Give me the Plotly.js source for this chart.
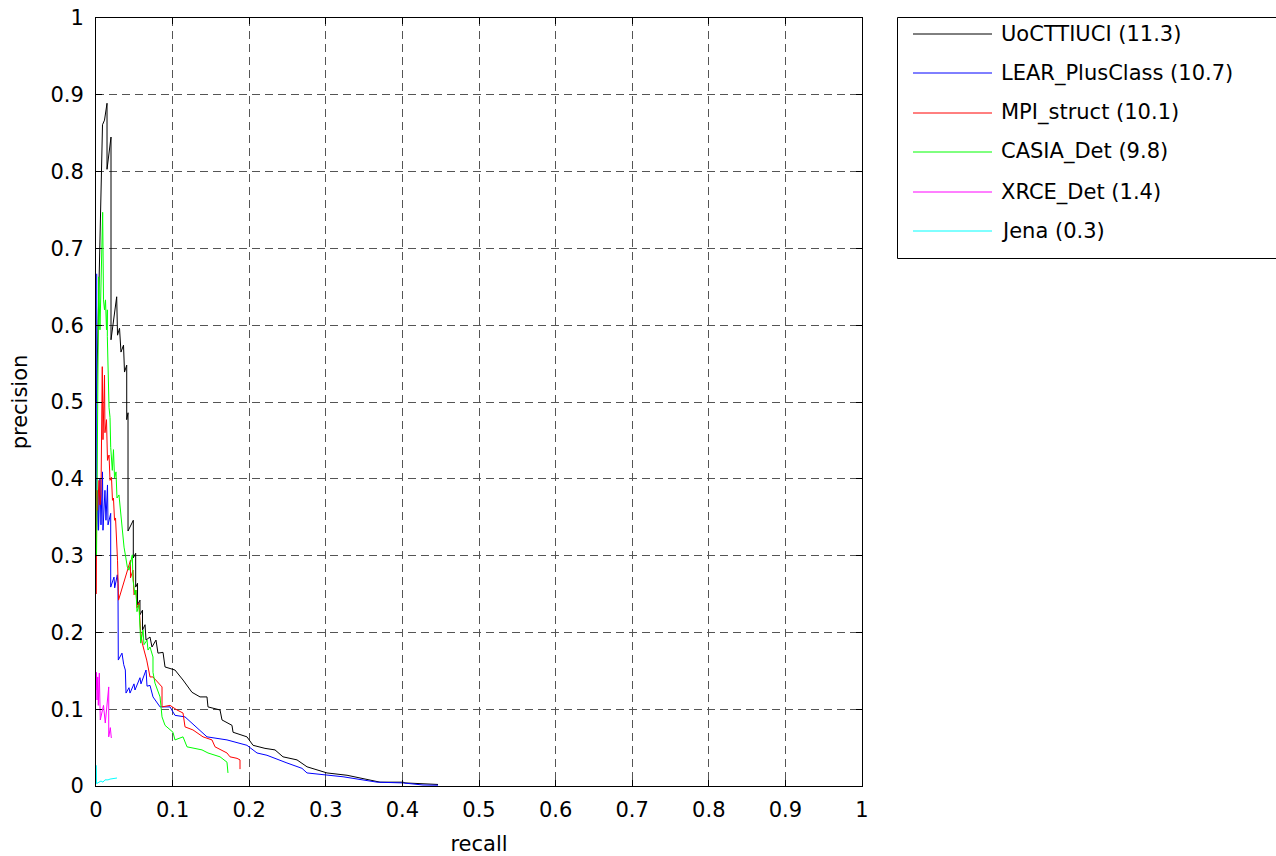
<!DOCTYPE html>
<html>
<head>
<meta charset="utf-8">
<script src="https://cdn.plot.ly/plotly-3.0.1.min.js"></script>
<style>
html,body{margin:0;padding:0;background:#fff;}
#chart{width:1276px;height:856px;}
</style>
</head>
<body>
<div id="chart"></div>
<script>
// ---------- data ----------
const seriesNames = ["UoCTTIUCI (11.3)", "LEAR_PlusClass (10.7)", "MPI_struct (10.1)", "CASIA_Det (9.8)", "XRCE_Det (1.4)", "Jena (0.3)"];
const seriesColors = ["#000000", "#0000ff", "#ff0000", "#00ff00", "#ff00ff", "#00ffff"];

const recallUoC = [0.0005,0.0039,0.0085,0.0111,0.0144,0.0144,0.0196,0.0196,0.027,0.0281,0.0307,0.0326,0.0359,0.0372,0.0401,0.0401,0.0418,0.0418,0.0487,0.0487,0.0518,0.0518,0.0542,0.0542,0.0574,0.0574,0.0607,0.0607,0.064,0.0653,0.0705,0.0731,0.0783,0.0809,0.0875,0.0901,0.1031,0.1136,0.1253,0.1358,0.1449,0.1462,0.1619,0.1645,0.1775,0.1789,0.1971,0.205,0.2206,0.2337,0.2441,0.2624,0.2755,0.3016,0.3277,0.3708,0.4008,0.4034,0.4465];
const precUoC   = [0.5,0.659,0.861,0.867,0.889,0.803,0.845,0.581,0.637,0.587,0.596,0.565,0.574,0.539,0.548,0.477,0.486,0.332,0.346,0.297,0.303,0.259,0.264,0.236,0.242,0.223,0.229,0.203,0.21,0.19,0.194,0.181,0.19,0.173,0.174,0.155,0.151,0.138,0.122,0.116,0.116,0.103,0.099,0.086,0.079,0.07,0.064,0.053,0.049,0.047,0.038,0.034,0.025,0.017,0.014,0.005,0.005,0.004,0.002];

const recallLEAR = [0.0009,0.0009,0.0026,0.0033,0.0052,0.0065,0.0085,0.0091,0.0117,0.013,0.015,0.0157,0.0192,0.0192,0.0235,0.0244,0.0278,0.0287,0.0291,0.0339,0.0362,0.0383,0.0392,0.0431,0.0444,0.0496,0.0509,0.0574,0.0587,0.0653,0.0666,0.0705,0.0744,0.0836,0.0966,0.1031,0.1162,0.1332,0.1449,0.171,0.1971,0.2102,0.2232,0.2493,0.2689,0.2755,0.3225,0.3668,0.4008,0.4269,0.4465];
const precLEAR   = [0.667,0.333,0.385,0.333,0.401,0.34,0.409,0.333,0.385,0.346,0.392,0.34,0.355,0.259,0.272,0.258,0.275,0.264,0.164,0.173,0.158,0.151,0.121,0.128,0.121,0.133,0.125,0.141,0.133,0.151,0.13,0.131,0.116,0.103,0.103,0.092,0.09,0.075,0.064,0.06,0.053,0.043,0.04,0.03,0.023,0.017,0.012,0.005,0.004,0.0013,0.001];

const recallMPI = [0.0004,0.0009,0.002,0.0039,0.0052,0.0065,0.0082,0.0091,0.0111,0.0117,0.0137,0.015,0.017,0.0183,0.0202,0.0215,0.0228,0.0242,0.0255,0.0268,0.0281,0.0294,0.045,0.045,0.0483,0.0496,0.0522,0.0535,0.0561,0.0581,0.0604,0.0627,0.0662,0.0705,0.0744,0.0862,0.0862,0.0966,0.1057,0.1136,0.1162,0.1266,0.1397,0.1514,0.1554,0.171,0.1749,0.1841,0.188,0.188];
const precMPI   = [0.25,0.385,0.359,0.398,0.366,0.379,0.546,0.451,0.535,0.46,0.477,0.424,0.431,0.398,0.402,0.372,0.375,0.346,0.349,0.32,0.294,0.242,0.294,0.271,0.281,0.249,0.255,0.232,0.238,0.203,0.186,0.177,0.164,0.142,0.142,0.129,0.103,0.105,0.099,0.095,0.077,0.073,0.064,0.06,0.051,0.043,0.038,0.036,0.034,0.022];

const recallCASIA = [0.0007,0.002,0.0035,0.0052,0.0087,0.0098,0.0111,0.0124,0.0137,0.0148,0.0148,0.017,0.0183,0.0192,0.0213,0.0228,0.0242,0.0261,0.0274,0.03,0.0322,0.0339,0.0366,0.0388,0.0409,0.0431,0.0474,0.0483,0.0509,0.0522,0.0535,0.0561,0.0574,0.0584,0.0614,0.0627,0.0666,0.0679,0.0705,0.0744,0.0744,0.077,0.0836,0.0862,0.0901,0.1005,0.1031,0.1136,0.1188,0.1384,0.1462,0.1619,0.171,0.1723];
const precCASIA   = [0.301,0.451,0.663,0.594,0.747,0.633,0.62,0.633,0.594,0.62,0.585,0.493,0.48,0.441,0.411,0.438,0.401,0.409,0.375,0.379,0.355,0.346,0.311,0.298,0.285,0.281,0.301,0.268,0.249,0.255,0.227,0.236,0.21,0.186,0.203,0.184,0.19,0.177,0.181,0.168,0.148,0.134,0.116,0.09,0.079,0.07,0.06,0.064,0.051,0.047,0.043,0.038,0.031,0.017];

const recallXRCE = [0.0004,0.0007,0.0013,0.0023,0.003,0.0043,0.0056,0.0098,0.0121,0.0166,0.0166,0.0187,0.02];
const precXRCE   = [0.125,0.148,0.112,0.142,0.105,0.147,0.086,0.105,0.082,0.129,0.064,0.076,0.0625];

const recallJena = [0.0004,0.0007,0.0039,0.0065,0.0091,0.0117,0.0157,0.0183,0.0235,0.0274];
const precJena   = [0.027,0.003,0.005,0.0065,0.005,0.008,0.008,0.009,0.0098,0.0104];

const tickValues = [0,0.1,0.2,0.3,0.4,0.5,0.6,0.7,0.8,0.9,1];
const tickLabels = ["0","0.1","0.2","0.3","0.4","0.5","0.6","0.7","0.8","0.9","1"];
const xLabel = "recall";
const yLabel = "precision";

// ---------- build ----------
const recalls = [recallUoC, recallLEAR, recallMPI, recallCASIA, recallXRCE, recallJena];
const precs = [precUoC, precLEAR, precMPI, precCASIA, precXRCE, precJena];

const FONT = "DejaVu Sans, Liberation Sans, Arial, sans-serif";
const FS = 21;
const W = 1276, H = 856;
const L = 96, R = 862, T = 18, B = 786;
const px2x = p => (p - L) / (R - L);
const py2y = p => (B - p) / (B - T);

const traces = seriesNames.map((name, i) => ({
  type: "scatter",
  mode: "lines",
  name: name,
  x: recalls[i],
  y: precs[i],
  line: {color: seriesColors[i], width: 1},
  showlegend: false,
  hoverinfo: "x+y+name"
}));

// manual legend (MATLAB style box)
const shapes = [{
  type: "rect", xref: "paper", yref: "paper",
  x0: px2x(897.5), x1: px2x(1290), y0: py2y(258.5), y1: py2y(17.5),
  line: {color: "#000", width: 1}, fillcolor: "#fff", layer: "above"
}];
const annotations = [];
const rowY0 = 33.5, rowStep = 39.5;
seriesNames.forEach((name, i) => {
  const rowPx = Math.round(rowY0 + i * rowStep);
  const yy = py2y(rowPx);
  shapes.push({
    type: "line", xref: "paper", yref: "paper",
    x0: px2x(913), x1: px2x(992), y0: yy, y1: yy,
    line: {color: seriesColors[i], width: 1}, layer: "above"
  });
  annotations.push({
    xref: "paper", yref: "paper", x: px2x(999), y: yy,
    xanchor: "left", yanchor: "middle", showarrow: false,
    text: name, font: {family: FONT, size: FS, color: "#000"}
  });
});

const axisCommon = {
  range: [0, 1],
  tickmode: "array",
  tickvals: tickValues,
  ticktext: tickLabels,
  showline: true, linecolor: "#000", linewidth: 1,
  mirror: "ticks",
  ticks: "inside", ticklen: 6, tickcolor: "#000", tickwidth: 1,
  showgrid: true, gridcolor: "#555", gridwidth: 1, griddash: "8px,5px",
  zeroline: false,
  fixedrange: true,
  automargin: false,
  tickfont: {family: FONT, size: FS, color: "#000"}
};

const layout = {
  width: W, height: H,
  margin: {l: L, r: W - R, t: T, b: H - B, pad: 0},
  paper_bgcolor: "#fff",
  plot_bgcolor: "#fff",
  font: {family: FONT, size: FS, color: "#000"},
  showlegend: false,
  xaxis: Object.assign({}, axisCommon, {
    ticklabelstandoff: 5,
    title: {text: xLabel, font: {family: FONT, size: FS, color: "#000"}, standoff: 15}
  }),
  yaxis: Object.assign({}, axisCommon, {
    ticklabelstandoff: 7,
    title: {text: yLabel, font: {family: FONT, size: FS, color: "#000"}, standoff: 17}
  }),
  shapes: shapes,
  annotations: annotations
};

Plotly.newPlot("chart", traces, layout, {displayModeBar: false, staticPlot: false});
</script>
</body>
</html>
